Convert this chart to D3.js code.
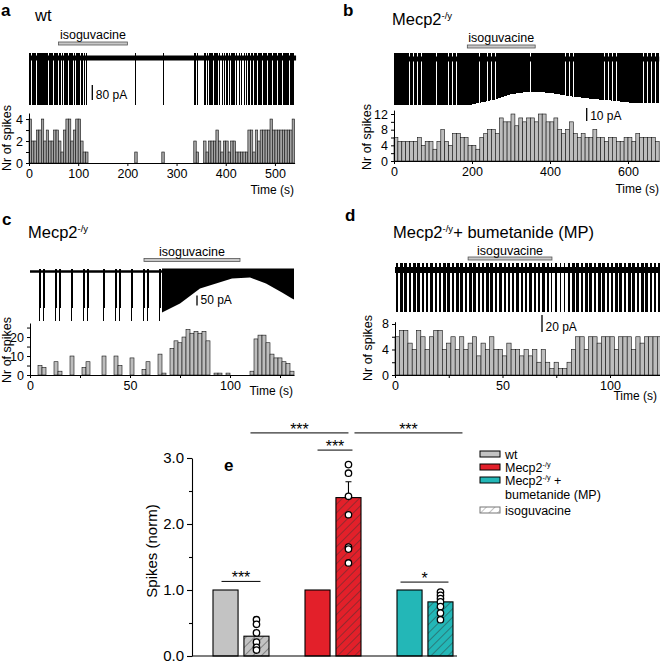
<!DOCTYPE html>
<html><head><meta charset="utf-8">
<script src="https://cdn.jsdelivr.net/npm/d3@7"></script>
<style>body{margin:0;background:#fff}svg{display:block}</style>
</head><body>
<svg id="fig" width="660" height="663"></svg>
<script>
// ---------------- DATA ----------------
// spike-count histograms (Nr of spikes per bin)
const histA = [4,2,2,3,3,4,2,3,2,2,3,3,2,1,3,4,4,2,3,4,4,2,1,1,
  0,0,0,0,0,0,0,0,0,0,0,0,0,0,0,0,0,0,0,1,
  0,0,0,0,0,0,0,0,0,0,1,
  0,0,0,0,0,0,0,0,0,0,0,0,2,1,0,0,
  2,1,2,2,2,3,2,1,2,2,1,2,2,1,1,1,1,1,3,3,1,3,2,3,3,3,3,4,3,3,3,3,3,3,3,3,4]; // 5 s bins
const histB = [6,5,5,5,5,5,6,4,5,5, 3,5,8,5,4,7,7,6,6,4, 4,3,6,7,8,8,7,11,10,10,
  12,9,11,10,11,11,10,12,12,10, 10,11,8,7,8,10,7,6,7,6, 6,8,6,6,5,6,6,5,5,6, 6,5,7,6,6,6,6,5]; // 10 s bins
const histC = [0,0,5,4,0,0,7,2,0,0, 10,0,0,4,7,0,0,0,10,0, 0,10,5,0,0,9,0,0,3,7,
  0,0,11,1,0,14,18,17,20,24, 22,23,22,23,18,0,1,1,0,1, 0,0,0,0,0,2,19,21,21,17, 11,9,9,7,6,2]; // 2 s bins
const histD = [6,7,7,5,4,7,6,4,6,7, 7,4,5,6,4,6,4,5,6,3, 5,4,6,4,4,3,5,4,4,3,
  4,3,4,2,4,2,1,2,1,1, 2,4,6,6,4,6,6,5,6,6, 6,4,6,6,6,4,6,5,6,6,6,6]; // 2 s bins
const binWidths = {a:5, b:10, c:2, d:2};
// isoguvacine application windows (s)
const isoA = [60,200], isoB = [188,362], isoC = [57,105], isoD = [34,73];
// current-trace envelopes (time s, trough amplitude pA)
const spikeAmpA = 250, spikeAmpD = 50, spikeAmpC = 245;
const envB = [[0,35],[200,35],[260,31],[300,27],[350,25],[400,26],[460,29],[520,31],[560,32],[620,34],[680,34]];
const envC = [[66,205],[75,160],[85,85],[101,35],[110,30],[118,60],[126,105],[131,135],[132,140]];
// panel e
const groups = ["wt","mecp2","bum"];
const conditions = ["ctrl","iso"];
const ctrlMean = [1.0, 1.0, 1.0];
const isoMean = [0.30, 2.40, 0.82];
const isoSem = [0, 0.24, 0];
const isoPoints = [[0.55,0.48,0.35,0.21,0.13,0.09],
                   [2.90,2.77,2.42,2.14,1.65,1.62,1.41],
                   [0.97,0.92,0.87,0.82,0.75,0.65,0.55]];
const yTicksE = [0,0.5,1,1.5,2,2.5,3];
const comps = [
  {a:["wt","ctrl"], b:["wt","iso"], y:1.13, label:"***"},
  {a:["mecp2","ctrl"], b:["mecp2","iso"], y:3.12, label:"***"},
  {a:["wt","iso"], b:["mecp2","iso"], y:3.38, label:"***"},
  {a:["mecp2","iso"], b:["bum","iso"], y:3.38, label:"***"},
  {a:["bum","ctrl"], b:["bum","iso"], y:1.12, label:"*"}
];

// ---------------- DRAW ----------------
const FONT = "'Liberation Sans', Arial, Helvetica, sans-serif";
const svg = d3.select("#fig").attr("font-family", FONT);
const defs = svg.append("defs");

function label(x, y, parts, size, opt = {}) {
  const t = svg.append("text").attr("x", x).attr("y", y).attr("font-size", size)
    .attr("font-family", FONT).attr("fill", "#000")
    .attr("text-anchor", opt.anchor || "start");
  if (opt.bold) t.attr("font-weight", "bold");
  if (opt.rotate) t.attr("transform", `rotate(-90,${x},${y})`);
  parts.forEach(p => {
    if (typeof p === "string") t.append("tspan").text(p);
    else { const s = t.append("tspan").text(p.text); if (p.size) s.attr("font-size", p.size); if (p.dy) s.attr("dy", p.dy); }
  });
  return t;
}
const mecpParts = (after, size) => ["Mecp2", {text:"-/y", size:size*0.58, dy:-size*0.38}, {text:after, dy:size*0.38}];

function histogram(cfg) {
  const g = svg.append("g");
  const {hist, binW, x, y, fill} = cfg;
  g.selectAll("rect").data(hist.map((v, i) => ({v, i})).filter(d => d.v > 0)).join("rect")
    .attr("x", d => x(d.i * binW)).attr("width", d => x((d.i + 1) * binW) - x(d.i * binW))
    .attr("y", d => y(d.v)).attr("height", d => y(0) - y(d.v))
    .attr("fill", fill).attr("stroke", "#111").attr("stroke-width", 0.6);
  const gx = g.append("g").attr("transform", `translate(0,${y(0)})`)
    .call(d3.axisBottom(x).tickValues(cfg.xTicks).tickSize(3).tickSizeOuter(0)
      .tickFormat(d => cfg.xLabels.includes(d) ? d : ""));
  const gy = g.append("g").attr("transform", `translate(${x(0)},0)`)
    .call(d3.axisLeft(y).tickValues(cfg.yTicks).tickSize(3).tickSizeOuter(0)
      .tickFormat(d => cfg.yLabels.includes(d) ? d : ""));
  [gx, gy].forEach(a => {
    a.attr("font-size", 12.5).attr("font-family", FONT);
    a.selectAll("line,path").attr("stroke", "#000");
    a.selectAll("text").attr("fill", "#000");
  });
  label(cfg.timeX, cfg.timeY, ["Time (s)"], 12, {anchor:"end"});
  label(cfg.ylx, cfg.yly, ["Nr of spikes"], 12.5, {anchor:"middle", rotate:true});
}

// spikes: one vertical stroke per counted spike; "spread" = fraction of the bin the spikes occupy
function spikeTrace(hist, binW, x, base, up, ampPx, sw, spread, filterFn) {
  const d = [];
  hist.forEach((n, i) => {
    for (let k = 0; k < n; k++) {
      const t = (i + 0.5 + spread * ((k + 0.5) / n - 0.5)) * binW;
      if (filterFn && !filterFn(t)) continue;
      d.push(`M${x(t).toFixed(2)},${base - up}V${(base + ampPx(t, k)).toFixed(2)}`);
    }
  });
  svg.append("path").attr("d", d.join("")).attr("stroke", "#000").attr("stroke-width", sw)
    .attr("fill", "none").attr("shape-rendering", "crispEdges");
}
function baseline(x, t0, t1, y, w) {
  svg.append("line").attr("x1", x(t0)).attr("x2", x(t1)).attr("y1", y).attr("y2", y)
    .attr("stroke", "#000").attr("stroke-width", w);
}
function isoBar(x, win, yBar, yText) {
  svg.append("rect").attr("x", x(win[0])).attr("width", x(win[1]) - x(win[0]))
    .attr("y", yBar).attr("height", 3).attr("fill", "#c8c8c8").attr("stroke", "#555").attr("stroke-width", 0.8);
  label((x(win[0]) + x(win[1])) / 2, yText, ["isoguvacine"], 12.5, {anchor:"middle"});
}
function scaleBar(xp, y0, lenPx, text) {
  svg.append("line").attr("x1", xp).attr("x2", xp).attr("y1", y0).attr("y2", y0 + lenPx)
    .attr("stroke", "#000").attr("stroke-width", 1.3);
  label(xp + 3.5, y0 + lenPx - 1.5, [text], 12);
}

// ----- panel a -----
label(1, 16, ["a"], 17, {bold:true});
label(35, 21, ["wt"], 16.5);
const xA = d3.scaleLinear().domain([0, 540]).range([29, 294.6]);
const yA = d3.scaleLinear().domain([0, 4.55]).range([163, 113]);
const pxA = d3.scaleLinear().domain([0, 80]).range([0, 15]);
isoBar(xA, isoA, 42, 39);
baseline(xA, 0, 543, 58, 5);
spikeTrace(histA, binWidths.a, xA, 58, 5, () => pxA(spikeAmpA), 1, 0.6);
scaleBar(92.3, 85, pxA(80), "80 pA");
histogram({hist:histA, binW:binWidths.a, x:xA, y:yA, fill:"#a3a3a3",
  xTicks:[0,100,200,300,400,500], xLabels:[0,100,200,300,400,500],
  yTicks:[0,1,2,3,4], yLabels:[0,2,4], timeX:294, timeY:194, ylx:11, yly:138});

// ----- panel b -----
label(343, 16, ["b"], 17, {bold:true});
label(392, 25, mecpParts("", 16.5), 16.5);
const xB = d3.scaleLinear().domain([0, 680]).range([394, 659.2]);
const yB = d3.scaleLinear().domain([0, 13.0]).range([161, 110.1]);
const pxB = d3.scaleLinear().domain([0, 10]).range([0, 13]);
const ampB = d3.scaleLinear().domain(envB.map(d => d[0])).range(envB.map(d => d[1]));
isoBar(xB, isoB, 45, 41.5);
baseline(xB, 0, 680, 59, 5);
spikeTrace(histB, binWidths.b, xB, 59, 6, t => pxB(ampB(t)), 1, 0.8);
scaleBar(586.7, 108, pxB(10), "10 pA");
histogram({hist:histB, binW:binWidths.b, x:xB, y:yB, fill:"#bdbdbd",
  xTicks:[0,200,400,600], xLabels:[0,200,400,600],
  yTicks:[0,2,4,6,8,10,12], yLabels:[0,4,8,12], timeX:659, timeY:193, ylx:371, yly:137});

// ----- panel c -----
label(2, 225, ["c"], 17, {bold:true});
label(28, 238, mecpParts("", 16.5), 16.5);
const xC = d3.scaleLinear().domain([0, 132]).range([30, 294]);
const yC = d3.scaleLinear().domain([0, 27.4]).range([375, 323]);
const pxC = d3.scaleLinear().domain([0, 50]).range([0, 10]);
isoBar(xC, isoC, 258.5, 255.5);
baseline(xC, 0, 132, 271.5, 2.5);
spikeTrace(histC, binWidths.c, xC, 271.5, 3, (t, k) => pxC(spikeAmpC) * (k === 0 ? 1 : 0.75), 1, 0.35, t => t < envC[0][0]);
svg.append("path").datum(envC)
  .attr("d", d3.area().x(d => xC(d[0])).y0(268.5).y1(d => 271.5 + pxC(d[1])))
  .attr("fill", "#000");
scaleBar(197, 295.5, pxC(50), "50 pA");
histogram({hist:histC, binW:binWidths.c, x:xC, y:yC, fill:"#bdbdbd",
  xTicks:[0,25,50,75,100,125], xLabels:[0,50,100],
  yTicks:[0,5,10,15,20,25], yLabels:[0,10,20], timeX:293, timeY:395, ylx:11, yly:350});

// ----- panel d -----
label(345, 221, ["d"], 17, {bold:true});
label(393, 238, mecpParts("+ bumetanide (MP)", 16.5), 16.5);
const xD = d3.scaleLinear().domain([0, 124]).range([395, 661.6]);
const yD = d3.scaleLinear().domain([0, 8.36]).range([375, 321.7]);
const pxD = d3.scaleLinear().domain([0, 20]).range([0, 17]);
isoBar(xD, isoD, 257, 254.5);
baseline(xD, 0, 124, 270, 6);
spikeTrace(histD, binWidths.d, xD, 269, 6, () => pxD(spikeAmpD), 1, 0.45);
scaleBar(542, 315, pxD(20), "20 pA");
histogram({hist:histD, binW:binWidths.d, x:xD, y:yD, fill:"#bdbdbd",
  xTicks:[0,25,50,75,100], xLabels:[0,50,100],
  yTicks:[0,2,4,6,8], yLabels:[0,4,8], timeX:657, timeY:400, ylx:372, yly:348});

// ----- panel e -----
label(224, 471, ["e"], 17, {bold:true});
const colors = {wt:"#c3c3c3", mecp2:"#e3202a", bum:"#23b7b7"};
const yE = d3.scaleLinear().domain([0, 3]).range([656, 458]);
const xG = d3.scaleBand().domain(groups).range([195, 471]);
const xCond = d3.scaleBand().domain(conditions).range([18, 74]).paddingInner(0.19);
const cx = (g, c) => xG(g) + xCond(c) + xCond.bandwidth() / 2;

function hatch(id, bg, ink) {
  const p = defs.append("pattern").attr("id", id).attr("patternUnits", "userSpaceOnUse")
    .attr("width", 6).attr("height", 6).attr("patternTransform", "rotate(45)");
  p.append("rect").attr("width", 6).attr("height", 6).attr("fill", bg);
  p.append("line").attr("x1", 0).attr("y1", 0).attr("x2", 0).attr("y2", 6)
    .attr("stroke", ink).attr("stroke-width", 0.9);
}
groups.forEach(g => hatch("h-" + g, colors[g], "#333"));
hatch("h-legend", "#fff", "#777");

const barData = [];
groups.forEach((g, i) => {
  barData.push({g, c:"ctrl", v:ctrlMean[i]});
  barData.push({g, c:"iso", v:isoMean[i], sem:isoSem[i], pts:isoPoints[i]});
});
svg.append("g").selectAll("rect").data(barData).join("rect")
  .attr("x", d => xG(d.g) + xCond(d.c)).attr("width", xCond.bandwidth())
  .attr("y", d => yE(d.v)).attr("height", d => yE(0) - yE(d.v))
  .attr("fill", d => d.c === "ctrl" ? colors[d.g] : `url(#h-${d.g})`)
  .attr("stroke", "#000").attr("stroke-width", 1.1);
// error bars
barData.filter(d => d.sem > 0).forEach(d => {
  const x = cx(d.g, d.c);
  svg.append("path").attr("d", `M${x},${yE(d.v)}V${yE(d.v + d.sem)}M${x - 3},${yE(d.v + d.sem)}H${x + 3}`)
    .attr("stroke", "#000").attr("stroke-width", 1.1).attr("fill", "none");
});
// points
barData.filter(d => d.pts).forEach(d => {
  svg.append("g").selectAll("circle").data(d.pts).join("circle")
    .attr("cx", cx(d.g, d.c)).attr("cy", v => yE(v)).attr("r", 3.2)
    .attr("fill", "#fff").attr("stroke", "#000").attr("stroke-width", 1.3);
});
// axes
const gyE = svg.append("g").attr("transform", `translate(192,0)`)
  .call(d3.axisLeft(yE).tickValues(yTicksE).tickSize(5).tickSizeOuter(0)
    .tickFormat(d => Number.isInteger(d) ? d3.format(".1f")(d) : ""));
gyE.attr("font-size", 15).attr("font-family", FONT);
gyE.selectAll("line,path").attr("stroke", "#000").attr("stroke-width", 1.1);
gyE.selectAll("text").attr("fill", "#000");
gyE.selectAll(".tick").filter(d => !Number.isInteger(d)).select("line").attr("x2", -3);
svg.append("line").attr("x1", 192).attr("x2", 457).attr("y1", yE(0)).attr("y2", yE(0))
  .attr("stroke", "#000").attr("stroke-width", 1.1);
label(157, 551, ["Spikes (norm)"], 15, {anchor:"middle", rotate:true});
// significance
const compPad = [[-4, 4], [0, 4], [-6, 0], [6, 22], [-9, 8]];
comps.forEach((c, i) => {
  const x1 = cx(...c.a) + compPad[i][0], x2 = cx(...c.b) + compPad[i][1];
  const y = yE(c.y);
  svg.append("line").attr("x1", x1).attr("x2", x2).attr("y1", y).attr("y2", y)
    .attr("stroke", "#000").attr("stroke-width", 1);
  label((x1 + x2) / 2, y + 2, [c.label], 16, {anchor:"middle"});
});
// legend
const legendRows = [
  {parts:["wt"], fill:colors.wt, y:459},
  {parts:mecpParts("", 12.5), fill:colors.mecp2, y:472},
  {parts:mecpParts(" +", 12.5), fill:colors.bum, y:485},
  {parts:["bumetanide (MP)"], fill:null, y:499},
  {parts:["isoguvacine"], fill:"url(#h-legend)", y:515}
];
legendRows.forEach(r => {
  if (r.fill) svg.append("rect").attr("x", 480).attr("y", r.y - 8).attr("width", 20).attr("height", 6)
    .attr("fill", r.fill).attr("stroke", r.fill.startsWith("url") ? "#777" : "#000").attr("stroke-width", 1);
  label(505, r.y, r.parts, 12.5);
});
</script>
</body></html>
